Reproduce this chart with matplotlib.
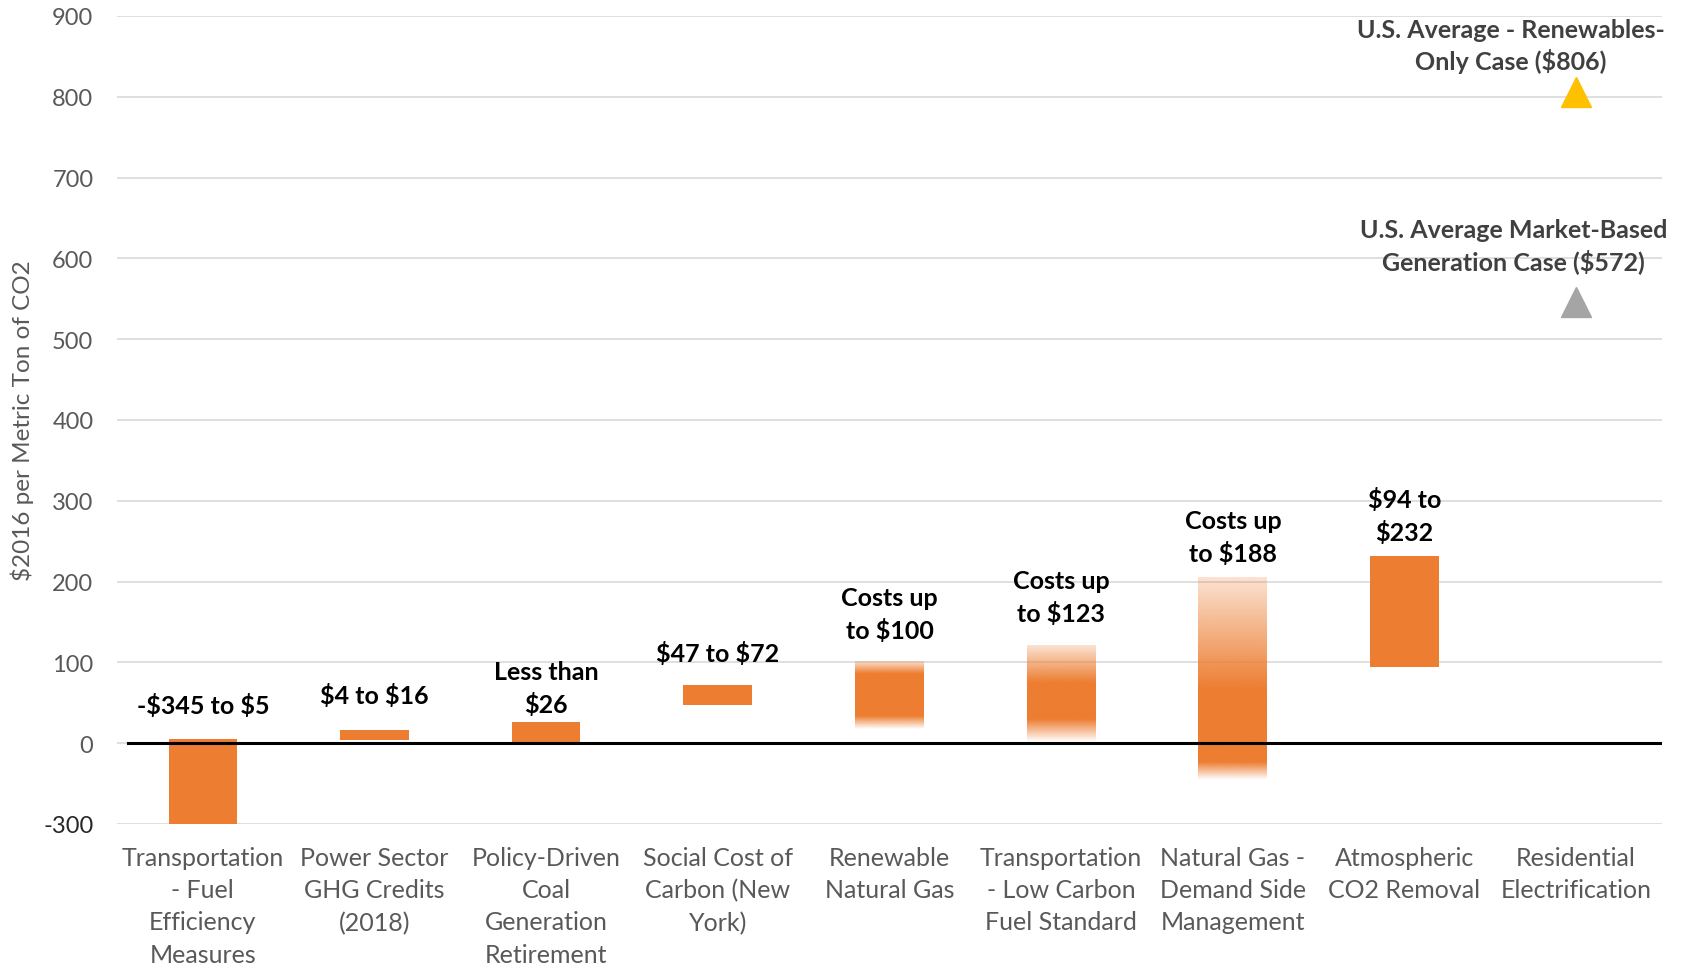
import numpy as np
import matplotlib
matplotlib.use('Agg')
import matplotlib.pyplot as plt
from matplotlib.colors import to_rgb

plt.rcParams['font.family'] = ['Lato', 'DejaVu Sans']
plt.rcParams['text.parse_math'] = False

# categories along the x axis
categories = ["Transportation\n- Fuel\nEfficiency\nMeasures",
              "Power Sector\nGHG Credits\n(2018)",
              "Policy-Driven\nCoal\nGeneration\nRetirement",
              "Social Cost of\nCarbon (New\nYork)",
              "Renewable\nNatural Gas",
              "Transportation\n- Low Carbon\nFuel Standard",
              "Natural Gas -\nDemand Side\nManagement",
              "Atmospheric\nCO2 Removal",
              "Residential\nElectrification"]

# range bars (low, high); None = no bar
bar_low = [-345, 4, 0, 47, 17, 2, -45, 94, None]
bar_high = [5, 16, 26, 72, 100, 121, 205, 232, None]
# gradient bars: where the fill becomes solid (solid_low, solid_high)
solid_low = [None, None, None, None, 33, 30, -23, None, None]
solid_high = [None, None, None, None, 85, 75, 67, None, None]
bar_labels = ["-$345 to $5", "$4 to $16", "Less than\n$26", "$47 to $72",
              "Costs up\nto $100", "Costs up\nto $123", "Costs up\nto $188",
              "$94 to\n$232", ""]

# point markers on Residential Electrification
renewables_only = 806
market_based = 546
renewables_text = "U.S. Average - Renewables-\nOnly Case ($806)"
market_text = "U.S. Average Market-Based\nGeneration Case ($572)"

ytick_pos = [-100, 0, 100, 200, 300, 400, 500, 600, 700, 800, 900]
ytick_lab = ['-300', '0', '100', '200', '300', '400', '500', '600', '700', '800', '900']

orange = '#ED7D31'
label_gap = [16, 16.5, 4.5, 14.5, 14.5, 14.5, 9, 8.5, 0]  # points above bar top
fs = 18

fig = plt.figure(figsize=(16.83, 9.70), dpi=100)
ax = fig.add_axes([117/1683, 1-825/970, 1545/1683, 808/970])

x = np.arange(len(categories))
w = 0.40
rgb = to_rgb(orange)
for i in range(len(categories)):
    if bar_low[i] is None:
        continue
    lo, hi = bar_low[i], bar_high[i]
    if solid_low[i] is None:
        ax.bar(x[i], hi - lo, bottom=lo, width=w, color=orange, zorder=2)
    else:
        ys = np.linspace(lo, hi, 300)
        alpha = np.interp(ys, [lo, solid_low[i], solid_high[i], hi], [0.0, 1.0, 1.0, 0.22])
        img = np.zeros((300, 1, 4))
        img[:, 0, :3] = rgb
        img[:, 0, 3] = alpha
        ax.imshow(img, extent=[x[i]-w/2, x[i]+w/2, lo, hi], origin='lower',
                  aspect='auto', interpolation='bilinear', zorder=2)
    ax.annotate(bar_labels[i], (x[i], hi), xytext=(0, label_gap[i]),
                textcoords='offset points', ha='center', va='bottom',
                fontsize=fs, fontweight='bold', color='black', linespacing=1.46)

ax.plot(x[-1], renewables_only, marker='^', ms=21, color='#FFC000', zorder=3)
ax.plot(x[-1], market_based, marker='^', ms=21, color='#A5A5A5', zorder=3)
ax.annotate(renewables_text, (x[-1], renewables_only), xytext=(-47, 13.5),
            textcoords='offset points', ha='center', va='bottom',
            fontsize=fs, fontweight='bold', color='#404040', linespacing=1.32,
            annotation_clip=False)
ax.annotate(market_text, (x[-1], market_based), xytext=(-45, 21),
            textcoords='offset points', ha='center', va='bottom',
            fontsize=fs, fontweight='bold', color='#404040', linespacing=1.32,
            annotation_clip=False)

ax.axhline(0, xmin=0.007, color='black', lw=2.2, zorder=4)

ax.set_xlim(-0.5, len(categories) - 0.5)
ax.set_ylim(-100, 900)
ax.set_yticks(ytick_pos)
ax.set_yticklabels(ytick_lab)
ax.set_xticks(x)
ax.set_xticklabels(categories, linespacing=1.48)
ax.tick_params(axis='x', length=0, pad=16, labelsize=fs, labelcolor='#595959')
ax.tick_params(axis='y', length=0, pad=17, labelsize=17, labelcolor='#595959')
ax.get_yticklabels()[0].set_color('#262626')
ax.grid(axis='y', color='#D9D9D9', lw=1.2, zorder=0)
ax.set_axisbelow(True)
for s in ax.spines.values():
    s.set_visible(False)

ax.set_ylabel('$2016 per Metric Ton of CO2', fontsize=17.5, color='#595959')
ax.yaxis.set_label_coords(-0.054, 0.5)

fig.savefig('out.png', dpi=100)
